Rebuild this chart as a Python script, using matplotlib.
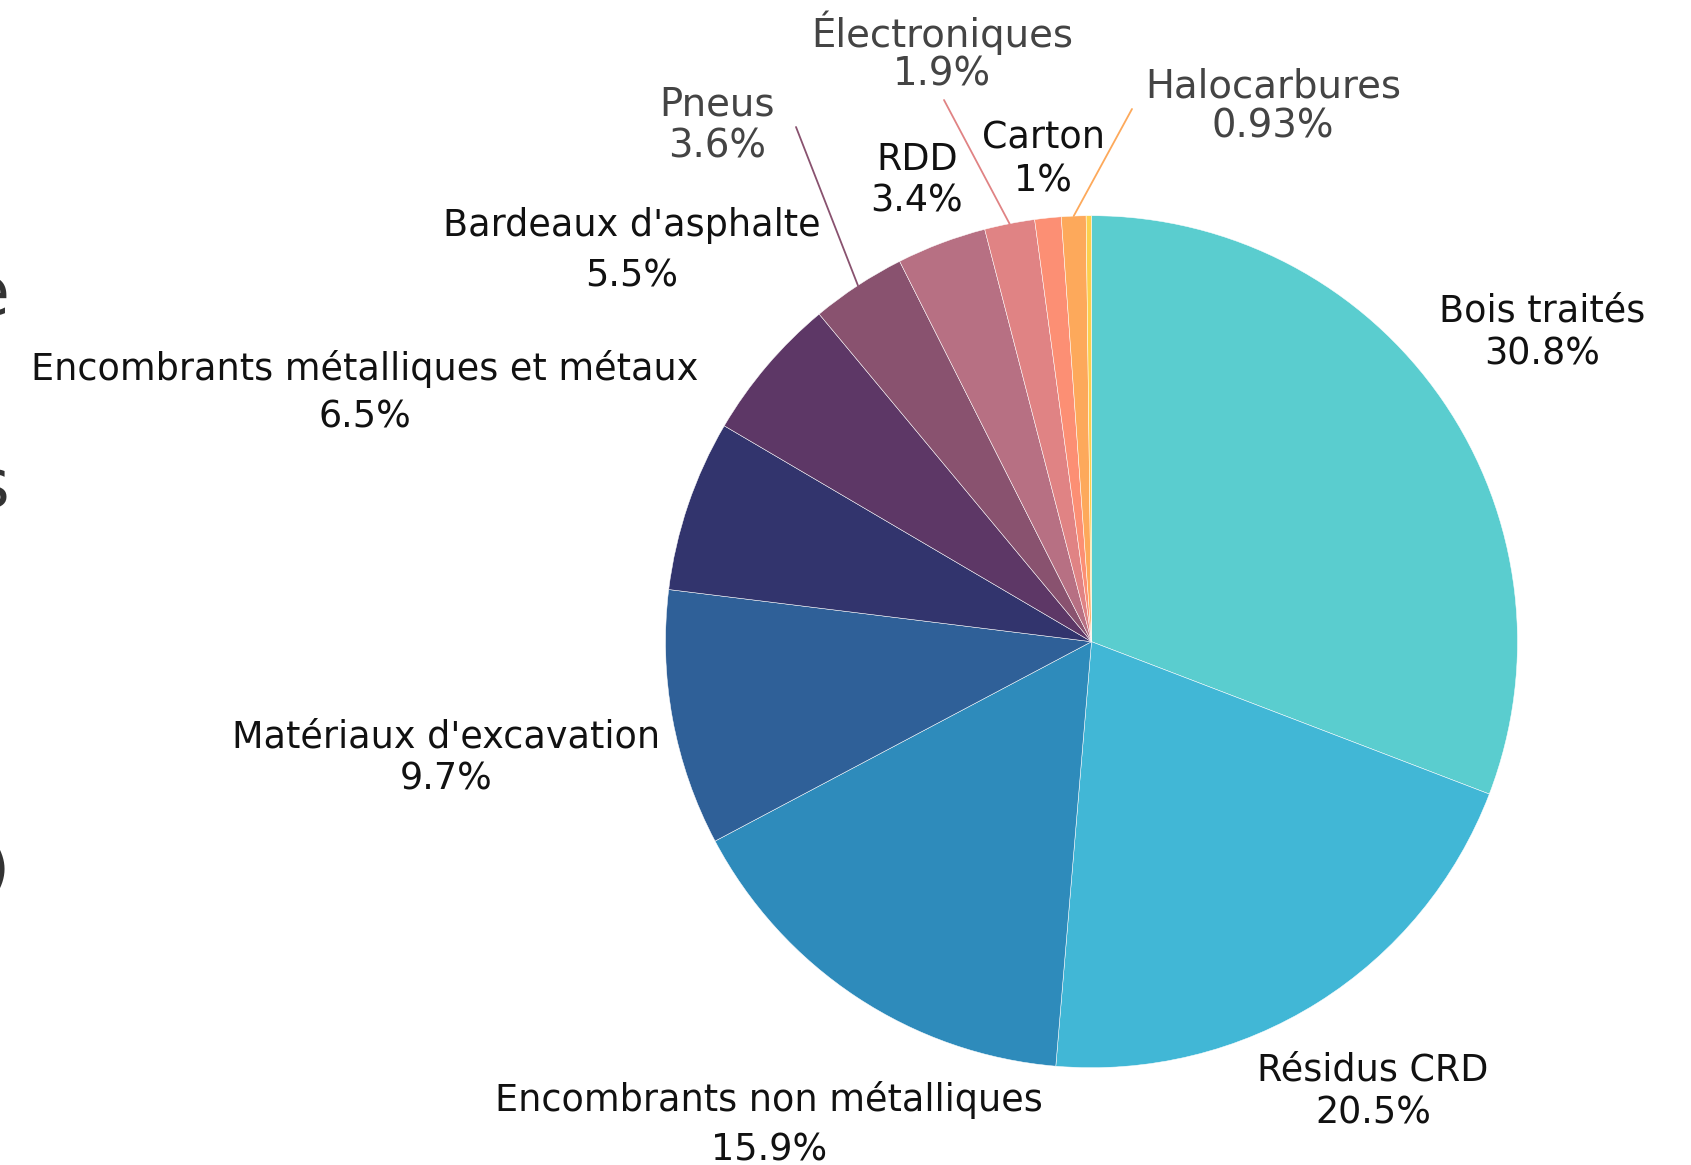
#!/usr/bin/env python3
"""Pie chart of residual material shares (categories of collected waste)."""

import numpy as np
import matplotlib

matplotlib.use("Agg")
import matplotlib.pyplot as plt

plt.rcParams["font.family"] = ["DejaVu Sans"]

# data
categories = [
    "Bois traités",
    "Résidus CRD",
    "Encombrants non métalliques",
    "Matériaux d'excavation",
    "Encombrants métalliques et métaux",
    "Bardeaux d'asphalte",
    "Pneus",
    "RDD",
    "Électroniques",
    "Carton",
    "Halocarbures",
    "",
]
shares = [30.8, 20.5, 15.9, 9.7, 6.5, 5.5, 3.6, 3.4, 1.9, 1.0, 0.93, 0.2]
share_labels = ["30.8%", "20.5%", "15.9%", "9.7%", "6.5%", "5.5%",
                "3.6%", "3.4%", "1.9%", "1%", "0.93%", ""]
colors = ["#5acdcf", "#41b7d6", "#2e8bbb", "#2f6098", "#32346d", "#5d3766",
          "#89526f", "#b77083", "#e08384", "#fc8f74", "#fda95b", "#fccf4d"]

# layout (figure pixels, origin top-left)
W, H = 1691, 1165
CX, CY, R = 1091.5, 641.7, 426.0

# x centre, name line y, value line y, leader end (or None)
label_layout = {
    "Bois traités": (1542, 311, 354, None),
    "Résidus CRD": (1373, 1070, 1113, None),
    "Encombrants non métalliques": (769, 1100, 1150, None),
    "Matériaux d'excavation": (446, 737, 779, None),
    "Encombrants métalliques et métaux": (365, 369, 417, None),
    "Bardeaux d'asphalte": (632, 226, 276, None),
    "Pneus": (717, 105, 146, (796, 127)),
    "RDD": (917, 160, 201, None),
    "Électroniques": (942, 33, 75, (944, 100)),
    "Carton": (1043, 138, 181, None),
    "Halocarbures": (1273, 86, 127, (1132, 109)),
}


def fx(x):
    return x / W


def fy(y):
    return 1 - y / H


fig = plt.figure(figsize=(W / 100, H / 100), dpi=100)
ax = fig.add_axes([fx(CX - R), fy(CY + R), 2 * R / W, 2 * R / H])

wedges, _ = ax.pie(
    shares,
    colors=colors,
    startangle=90,
    counterclock=False,
    wedgeprops=dict(edgecolor="white", linewidth=0.35),
)
ax.set_xlim(-1, 1)
ax.set_ylim(-1, 1)
ax.set_aspect("equal")
ax.axis("off")

for wedge, name, pct, color in zip(wedges, categories, share_labels, colors):
    if name not in label_layout:
        continue
    x, y_name, y_pct, leader = label_layout[name]
    if leader is None:
        text_color, size = "#111111", 26.3
    else:
        text_color, size = "#444444", 27.8
        mid = np.deg2rad((wedge.theta1 + wedge.theta2) / 2)
        ax.annotate(
            "",
            xy=(np.cos(mid), np.sin(mid)),
            xycoords="data",
            xytext=(fx(leader[0]), fy(leader[1])),
            textcoords="figure fraction",
            arrowprops=dict(arrowstyle="-", color=color, lw=1.3,
                            shrinkA=0, shrinkB=0),
        )
    fig.text(fx(x), fy(y_name), name, ha="center", va="center",
             fontsize=size, color=text_color)
    fig.text(fx(x), fy(y_pct), pct, ha="center", va="center",
             fontsize=size, color=text_color)

# clipped tail of a large heading at the left edge
for ch, y in [("e", 315), ("s", 507)]:
    fig.text(fx(9), fy(y), ch, ha="right", va="baseline",
             fontsize=48, color="#333333")
fig.text(fx(9), fy(872), ")", ha="right", va="center",
         fontsize=44, color="#333333")

fig.savefig("out.png", dpi=100, facecolor="white")
